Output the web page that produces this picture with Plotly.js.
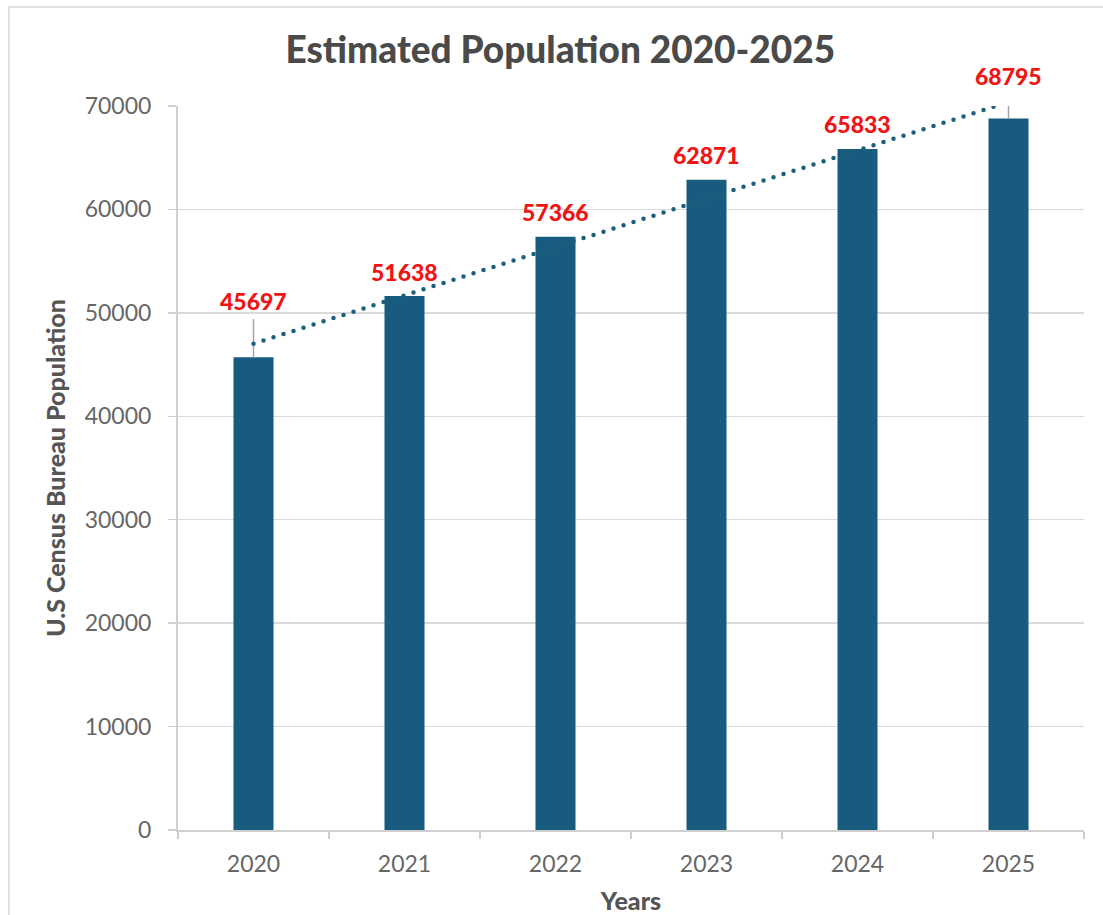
<!DOCTYPE html>
<html>
<head>
<meta charset="utf-8">
<script src="https://cdn.plot.ly/plotly-3.0.1.min.js"></script>
<style>
  html, body { margin: 0; padding: 0; background: #fff; overflow: hidden; }
  #chart { width: 1103px; height: 915px; }
  #frame { position: absolute; left: 8px; top: 6px; width: 1200px; height: 1000px;
           border-top: 2px solid #e0e0e0; border-left: 2px solid #e0e0e0; pointer-events: none; }
  .scatterlayer .js-line { stroke-linecap: round !important; }
</style>
</head>
<body>
<div id="chart"></div>
<div id="frame"></div>
<script>
// ---- data ----
const years = ["2020", "2021", "2022", "2023", "2024", "2025"];
const population = [45697, 51638, 57366, 62871, 65833, 68795];
const labelTexts = ["45697", "51638", "57366", "62871", "65833", "68795"];
// leader lines (label connector) extending above the bar, in data units
const leaderUp = [3700, 0, 0, 0, 0, 2450];
// label offsets above bar tops (px) - style
const labelShift = [56, 24, 25, 25, 25, 42];

// linear trendline (least squares over category index)
const n = population.length;
const idx = population.map((_, i) => i);
const mx = idx.reduce((a, b) => a + b, 0) / n;
const my = population.reduce((a, b) => a + b, 0) / n;
let sxy = 0, sxx = 0;
for (let i = 0; i < n; i++) { sxy += (idx[i] - mx) * (population[i] - my); sxx += (idx[i] - mx) ** 2; }
const slope = sxy / sxx, intercept = my - slope * mx;
const trend = idx.map(i => intercept + slope * i);

const barColor = "#175c7e";
const font = "Lato, 'Open Sans', sans-serif";

const bars = {
  type: "bar",
  x: years,
  y: population,
  marker: { color: barColor },
  error_y: {
    type: "data", symmetric: false, array: leaderUp, arrayminus: population.map(() => 0),
    color: "#a6a6a6", thickness: 1.5, width: 0, visible: true
  },
  hoverinfo: "x+y",
  showlegend: false
};

const trendLine = {
  type: "scatter",
  mode: "lines",
  x: years,
  y: trend,
  line: { color: "#1b5f7c", width: 4.5, dash: "0px,10.5px" },
  hoverinfo: "skip",
  showlegend: false
};

// annotations on a category axis are positioned by category index
const annotations = years.map((yr, i) => ({
  x: i, y: population[i], xref: "x", yref: "y",
  text: labelTexts[i], showarrow: false,
  yanchor: "middle", yshift: labelShift[i],
  font: { family: font, size: 23, color: "#f01414", weight: 900 }
}));

const layout = {
  width: 1103, height: 915,
  margin: { l: 178, r: 19, t: 106, b: 85 },
  paper_bgcolor: "#ffffff", plot_bgcolor: "#ffffff",
  bargap: 0.735,
  title: {
    text: "Estimated Population 2020-2025",
    font: { family: font, size: 37, color: "#4a4a4a", weight: 900 },
    x: 0.508, xanchor: "center", y: 1 - 50 / 915, yanchor: "middle", yref: "container"
  },
  xaxis: {
    type: "category",
    categoryorder: "array", categoryarray: years,
    range: [-0.5, years.length - 0.5],
    title: { text: "Years", font: { family: font, size: 25, color: "#555555", weight: 900 }, standoff: 17 },
    tickfont: { family: font, size: 23, color: "#666666" },
    tickangle: 0,
    showline: true, linecolor: "#cfcfcf", linewidth: 2,
    ticks: "outside", tickson: "boundaries", ticklen: 7, tickcolor: "#cfcfcf", tickwidth: 1.5,
    ticklabelstandoff: 12,
    showgrid: false, zeroline: false, automargin: false
  },
  yaxis: {
    range: [0, 70000],
    tick0: 0, dtick: 10000,
    title: { text: "U.S Census Bureau Population", font: { family: font, size: 25, color: "#555555", weight: 900 }, standoff: 12 },
    tickfont: { family: font, size: 23, color: "#666666" },
    showline: true, linecolor: "#cfcfcf", linewidth: 2,
    ticks: "outside", ticklen: 8, tickcolor: "#cfcfcf", tickwidth: 1.5,
    ticklabelstandoff: 12,
    showgrid: true, gridcolor: "#dadada", gridwidth: 1.5,
    zeroline: false, automargin: false, tickformat: "d"
  },
  annotations: annotations
};

Plotly.newPlot("chart", [bars, trendLine], layout, { displayModeBar: false, staticPlot: true });
</script>
</body>
</html>
